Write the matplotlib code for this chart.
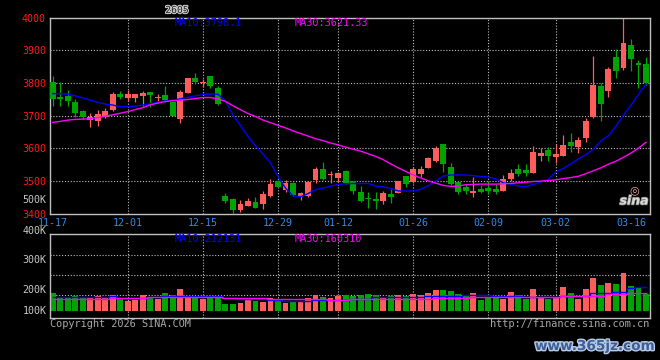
import numpy as np
import matplotlib.pyplot as plt
import matplotlib.patheffects as pe

# 日K线数据 (11-17 ~ 03-18)
opens = [3802, 3756, 3760, 3740, 3714, 3686, 3683, 3694, 3717, 3765,
         3755, 3754, 3760, 3771, 3755, 3763, 3740, 3690, 3770, 3815,
         3799, 3821, 3784, 3454, 3445, 3411, 3424, 3436, 3428, 3454,
         3498, 3472, 3494, 3451, 3454, 3502, 3536, 3517, 3510, 3530,
         3499, 3467, 3447, 3445, 3438, 3460, 3464, 3515, 3495, 3522,
         3540, 3561, 3612, 3543, 3497, 3480, 3464, 3474, 3479, 3475,
         3470, 3506, 3536, 3533, 3525, 3577, 3593, 3574, 3577, 3620,
         3604, 3630, 3696, 3790, 3775, 3879, 3845, 3916, 3860, 3857]
highs = [3821, 3802, 3778, 3750, 3717, 3708, 3717, 3722, 3773, 3776,
         3778, 3767, 3776, 3772, 3765, 3790, 3742, 3778, 3816, 3830,
         3812, 3822, 3790, 3463, 3448, 3441, 3448, 3450, 3470, 3505,
         3502, 3502, 3497, 3465, 3500, 3543, 3557, 3531, 3528, 3532,
         3500, 3485, 3467, 3467, 3469, 3475, 3501, 3516, 3543, 3545,
         3573, 3607, 3614, 3555, 3500, 3490, 3513, 3487, 3497, 3490,
         3518, 3536, 3551, 3551, 3607, 3600, 3604, 3613, 3640, 3647,
         3634, 3691, 3882, 3800, 3849, 3903, 3998, 3934, 3870, 3880]
lows = [3730, 3730, 3730, 3696, 3690, 3666, 3669, 3691, 3715, 3752,
        3745, 3740, 3730, 3725, 3742, 3742, 3697, 3678, 3769, 3797,
        3787, 3785, 3733, 3433, 3401, 3406, 3422, 3416, 3413, 3452,
        3480, 3465, 3455, 3440, 3452, 3492, 3503, 3494, 3497, 3490,
        3459, 3436, 3416, 3414, 3428, 3431, 3462, 3482, 3493, 3513,
        3539, 3559, 3528, 3487, 3460, 3461, 3451, 3462, 3461, 3460,
        3468, 3499, 3516, 3516, 3523, 3562, 3562, 3555, 3575, 3589,
        3584, 3620, 3693, 3683, 3757, 3815, 3839, 3836, 3785, 3793]
closes = [3750, 3750, 3745, 3708, 3696, 3694, 3704, 3713, 3767, 3758,
          3767, 3767, 3769, 3762, 3756, 3748, 3698, 3772, 3815, 3802,
          3804, 3791, 3736, 3438, 3410, 3429, 3438, 3418, 3460, 3490,
          3482, 3493, 3457, 3462, 3497, 3536, 3505, 3519, 3523, 3492,
          3469, 3438, 3443, 3437, 3464, 3451, 3500, 3490, 3536, 3536,
          3571, 3599, 3552, 3489, 3467, 3469, 3469, 3466, 3469, 3466,
          3507, 3525, 3520, 3523, 3588, 3586, 3577, 3582, 3610, 3607,
          3625, 3683, 3793, 3736, 3842, 3836, 3922, 3874, 3855, 3801]

ma10 = [3767, 3767, 3765, 3760, 3754, 3747, 3740, 3735, 3732, 3727,
        3727, 3729, 3732, 3736, 3741, 3745, 3747, 3751, 3756, 3760,
        3764, 3766, 3765, 3745, 3702, 3669, 3636, 3607, 3582, 3555,
        3513, 3478, 3454, 3451, 3461, 3473, 3478, 3484, 3489, 3491,
        3492, 3492, 3492, 3484, 3482, 3477, 3469, 3469, 3469, 3474,
        3485, 3500, 3515, 3518, 3518, 3518, 3516, 3513, 3512, 3506,
        3494, 3490, 3484, 3482, 3489, 3497, 3505, 3527, 3538, 3552,
        3567, 3580, 3597, 3622, 3638, 3667, 3701, 3731, 3765, 3796]
ma30 = [3679, 3682, 3686, 3688, 3689, 3690, 3693, 3698, 3702, 3707,
        3712, 3718, 3724, 3733, 3738, 3743, 3745, 3747, 3749, 3752,
        3755, 3755, 3751, 3743, 3730, 3718, 3706, 3697, 3686, 3678,
        3670, 3662, 3653, 3645, 3637, 3629, 3623, 3616, 3610, 3603,
        3597, 3591, 3583, 3575, 3565, 3552, 3540, 3529, 3518, 3509,
        3500, 3493, 3486, 3483, 3484, 3488, 3489, 3490, 3490, 3490,
        3491, 3492, 3494, 3496, 3498, 3499, 3501, 3503, 3507, 3510,
        3514, 3522, 3531, 3540, 3551, 3560, 3572, 3585, 3600, 3618]

# 成交量 (K)
volumes = [162, 123, 129, 135, 123, 126, 138, 123, 144, 114,
           93, 99, 144, 117, 105, 162, 144, 198, 129, 135,
           108, 123, 114, 63, 63, 75, 99, 87, 78, 114,
           99, 75, 84, 78, 114, 144, 129, 120, 135, 144,
           135, 144, 153, 144, 126, 135, 144, 135, 153, 144,
           162, 189, 189, 180, 153, 135, 162, 102, 120, 114,
           108, 171, 144, 108, 198, 120, 111, 120, 216, 162,
           108, 198, 297, 234, 252, 243, 342, 225, 207, 153]
vol_ma10 = [129, 129, 129, 129, 129, 129, 129, 129, 135, 116,
            116, 116, 116, 129, 129, 135, 135, 135, 135, 135,
            135, 135, 135, 114, 114, 108, 108, 108, 108, 96,
            96, 90, 90, 90, 90, 102, 102, 99, 99, 99,
            105, 105, 105, 123, 123, 123, 123, 123, 123, 123,
            138, 138, 138, 138, 138, 147, 147, 147, 147, 138,
            138, 138, 138, 126, 126, 126, 126, 126, 138, 138,
            138, 138, 159, 159, 159, 174, 174, 204, 212, 212]
vol_ma30 = [108, 108, 108, 108, 108, 108, 108, 108, 120, 120,
            120, 120, 120, 126, 126, 126, 126, 126, 126, 126,
            126, 126, 126, 117, 117, 117, 117, 117, 117, 108,
            108, 108, 108, 108, 108, 108, 108, 99, 99, 99,
            108, 108, 108, 108, 108, 108, 108, 108, 108, 108,
            108, 117, 117, 117, 117, 117, 126, 126, 126, 126,
            126, 126, 126, 126, 126, 126, 126, 126, 138, 138,
            138, 138, 138, 138, 150, 150, 150, 160, 160, 160]

date_idx = [0, 10, 20, 30, 38, 48, 58, 67, 77]
date_labels = ['11-17', '12-01', '12-15', '12-29', '01-12', '01-26', '02-09', '03-02', '03-16']
grid_idx = [10, 20, 30, 38, 48, 58, 67]
price_ticks = [3400, 3500, 3600, 3700, 3800, 3900, 4000]
vol_grid = [500, 320, 140]
vol_labels = [('500K', 200), ('400K', 231), ('300K', 260), ('200K', 290), ('100K', 311)]

UP = '#ff5c5c'
DOWN = '#00a400'
GRID = '#c0c0c0'
MONO = 'DejaVu Sans Mono'

W, H = 660, 360
fig = plt.figure(figsize=(6.6, 3.6), dpi=100, facecolor='black')


def fx(px):
    return px / W


def fy(py):
    return 1 - py / H


ax = fig.add_axes([fx(50), fy(213.5), fx(649.5) - fx(50), (213.5 - 17.5) / H])
axv = fig.add_axes([fx(50), fy(318.3), fx(649.5) - fx(50), (318.3 - 234.3) / H])

x = np.arange(len(closes))
o = np.array(opens)
c = np.array(closes)
cols = np.where(c >= o, UP, DOWN)

for a in (ax, axv):
    a.set_facecolor('black')
    a.set_xlim(-0.36, 79.47)
    for s in a.spines.values():
        s.set_color(GRID)
        s.set_linewidth(1)
    for gi in grid_idx:
        a.axvline(gi, color=GRID, lw=0.8, ls=(0, (1, 1.6)), zorder=0)

# K线
for p in price_ticks[1:-1]:
    ax.axhline(p, color=GRID, lw=0.8, ls=(0, (1, 1.6)), zorder=0)
ax.vlines(x, lows, highs, colors=cols, lw=0.9, zorder=2)
ax.bar(x, np.maximum(np.abs(c - o), 3), bottom=np.minimum(o, c), width=0.78,
       color=cols, linewidth=0, zorder=3)
ax.plot(x, ma10, color='#0000ff', lw=1, zorder=4)
ax.plot(x, ma30, color='#ff00ff', lw=1, zorder=4)
ax.set_ylim(3400, 4000)
ax.set_yticks(price_ticks)
ax.set_yticklabels([str(p) for p in price_ticks], color='#ff1a1a', fontsize=7.2, family=MONO)
ax.set_xticks(date_idx)
ax.set_xticklabels(date_labels, color='#2a8cf0', fontsize=7.2, family=MONO)
ax.tick_params(axis='x', length=0, pad=3.5)
ax.tick_params(axis='y', length=0, pad=3)

# 成交量
vols = np.array(volumes) * 1000
axv.bar(x, vols, width=0.78, color=cols, linewidth=0, zorder=2)
axv.plot(x, np.array(vol_ma10) * 1000, color='#0000ff', lw=1, drawstyle='steps-mid', zorder=3)
axv.plot(x, np.array(vol_ma30) * 1000, color='#ff00ff', lw=1, drawstyle='steps-mid', zorder=3)
for g in vol_grid:
    axv.axhline(g * 1000, color=GRID, lw=0.8, ls=(0, (1, 1.6)), zorder=0)
axv.set_ylim(-65700, 690300)
axv.set_xticks([])
axv.set_yticks([])

for lab, py in vol_labels:
    fig.text(fx(46.5), fy(py), lab, color='#c8c8c8', fontsize=7.2, family=MONO,
             ha='right', va='center')

fig.text(fx(175), fy(23.5), 'MA10:3798.1', color='#0000ff', fontsize=7.4, family=MONO, va='center')
fig.text(fx(295), fy(23.5), 'MA30:3621.33', color='#ff00ff', fontsize=7.4, family=MONO, va='center')
fig.text(fx(175), fy(238.5), 'MA10:212131', color='#0000ff', fontsize=7.4, family=MONO, va='center')
fig.text(fx(295), fy(238.5), 'MA30:160310', color='#ff00ff', fontsize=7.4, family=MONO, va='center')

fig.text(fx(177), fy(10), '2605', color='#202020', fontsize=7, family=MONO, ha='center', va='center',
         path_effects=[pe.withStroke(linewidth=1.5, foreground='#d0d0d0')])

fig.text(fx(50), fy(324), 'Copyright 2026 SINA.COM', color='#a8a8a8', fontsize=7.4,
         family=MONO, va='center')
fig.text(fx(649), fy(324), 'http://finance.sina.com.cn', color='#a8a8a8', fontsize=7.4,
         family=MONO, ha='right', va='center')

# sina 标志
fig.text(fx(634), fy(190), '◎', color='#f0a8a8', fontsize=8, ha='center', va='center')
fig.text(fx(634), fy(201), 'sina', color='#d8d8d8', fontsize=9, weight='bold', style='italic',
         ha='center', va='center', path_effects=[pe.withStroke(linewidth=1, foreground='#808080')])

# 水印
fig.text(fx(595), fy(346), 'www.365jz.com', color='#3d5f96', fontsize=9.8, weight='bold',
         ha='center', va='center',
         path_effects=[pe.withStroke(linewidth=2, foreground='#b8cbe6')])

fig.savefig('out.png', dpi=100, facecolor='black')
